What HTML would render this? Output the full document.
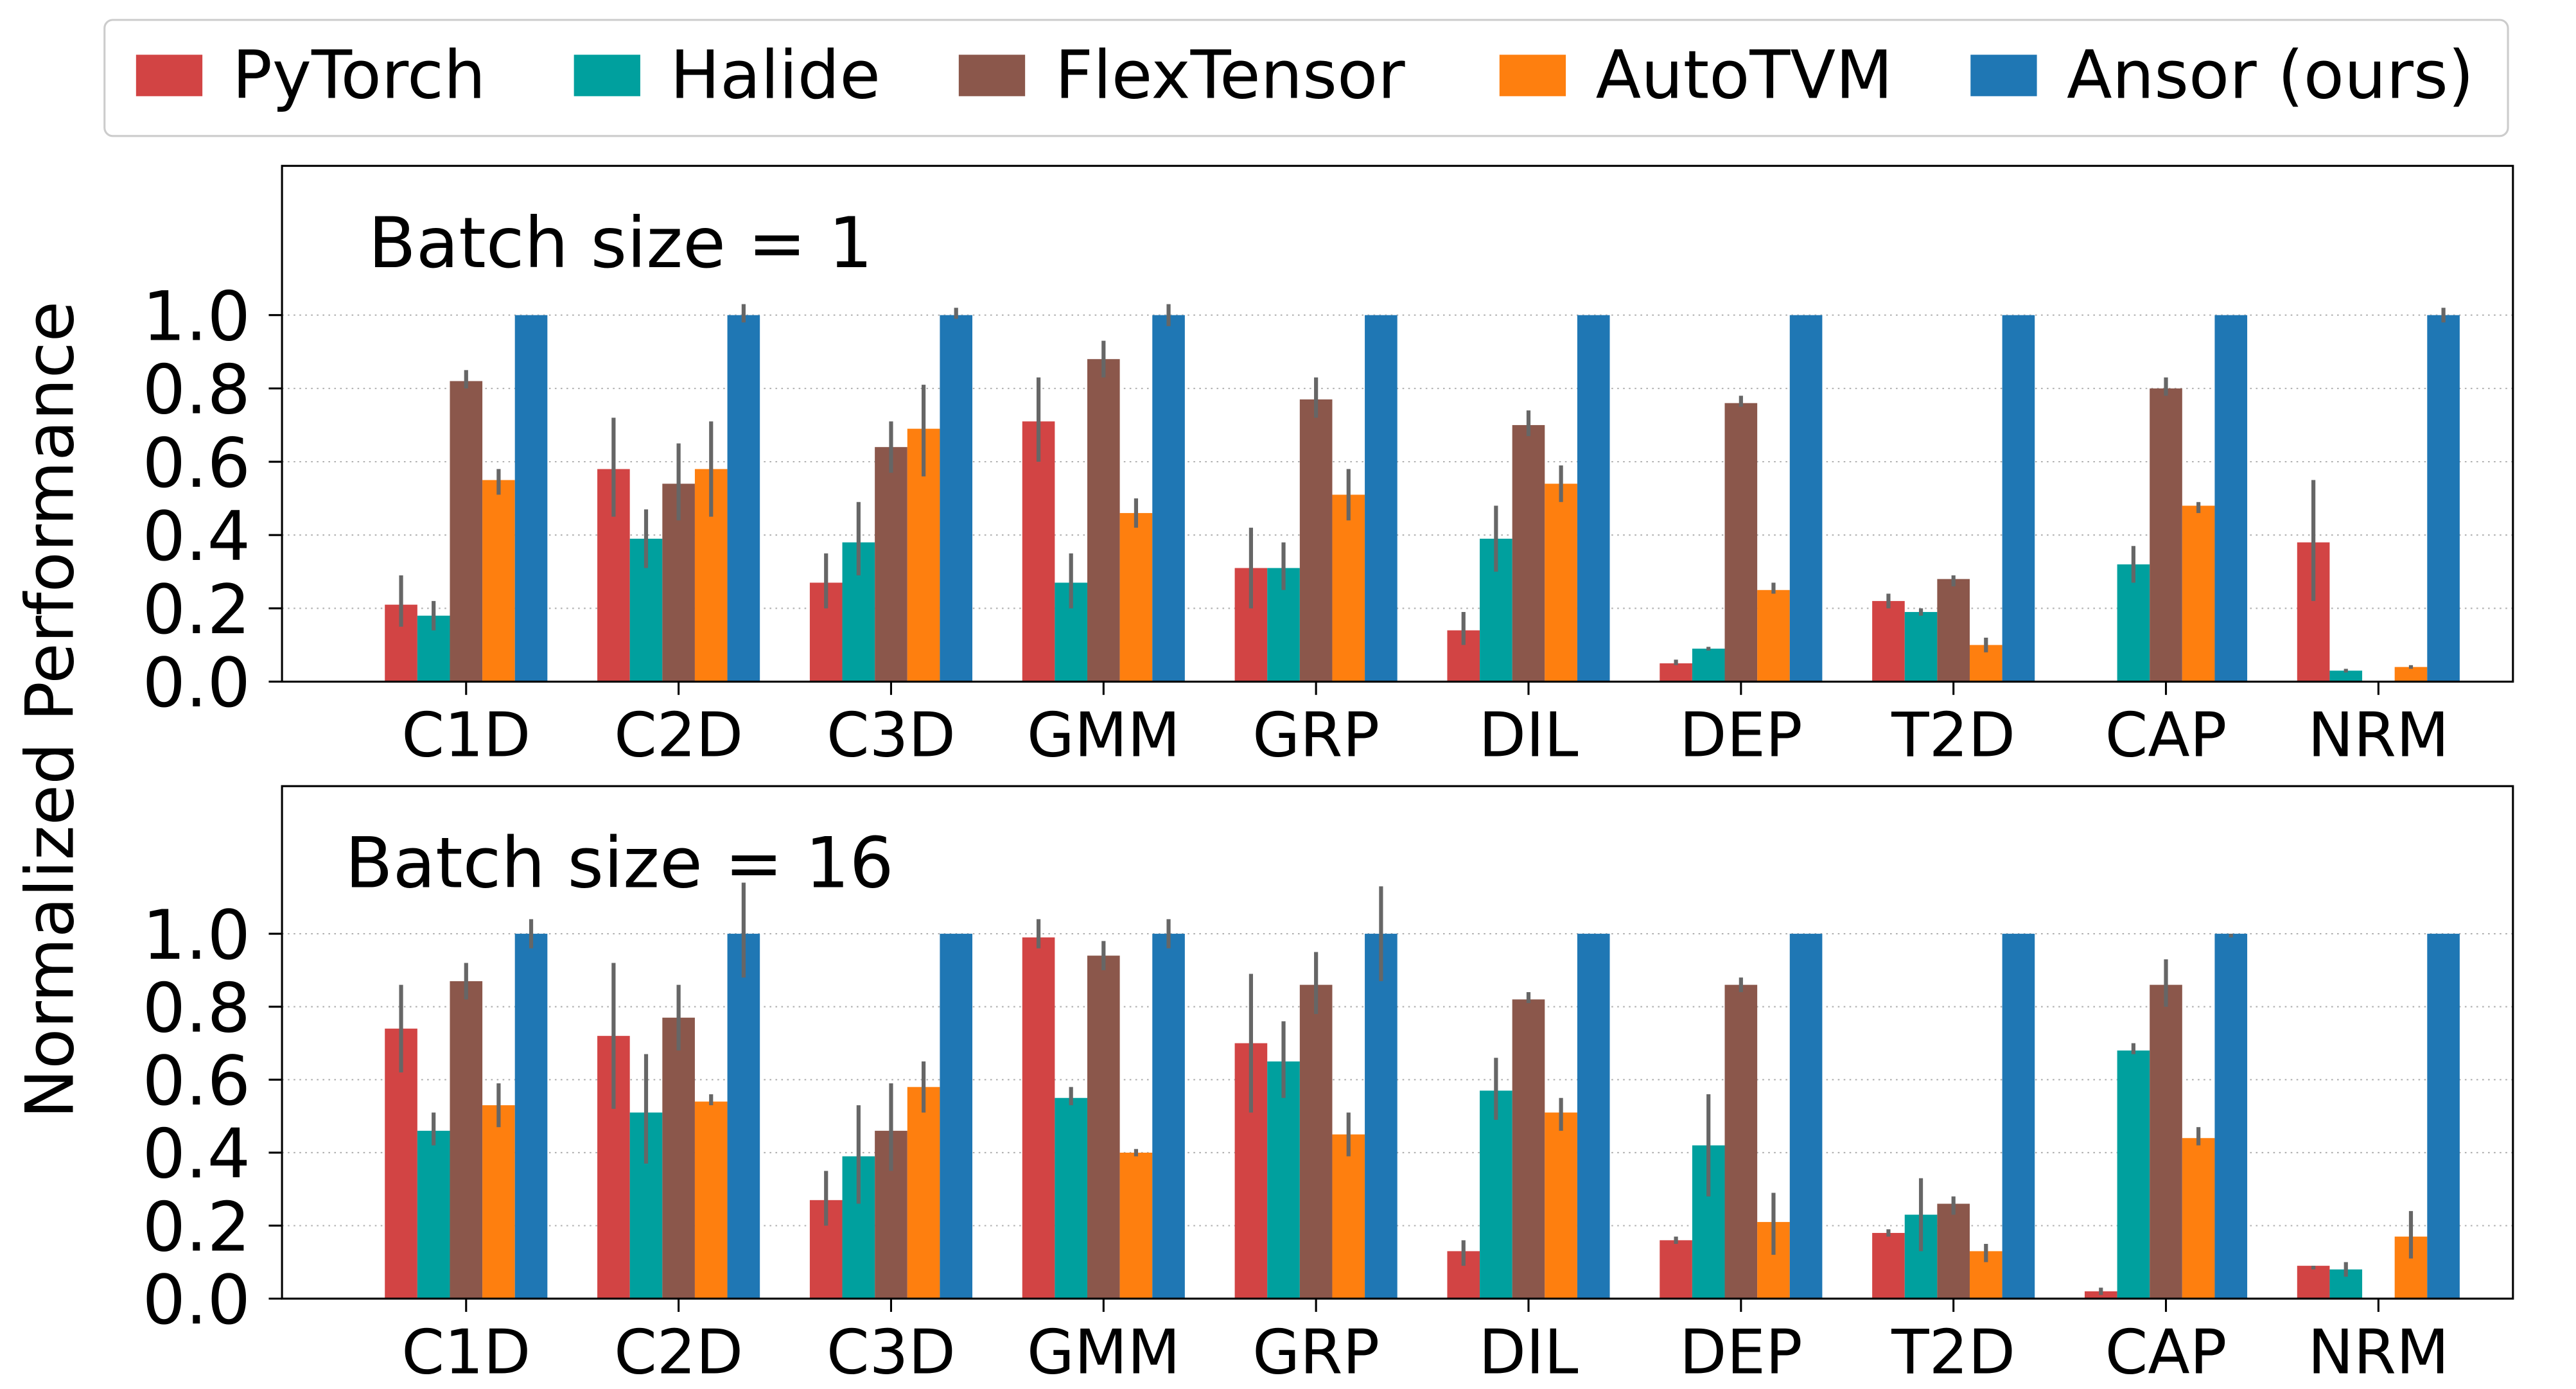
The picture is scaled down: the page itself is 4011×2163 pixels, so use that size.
<!DOCTYPE html>
<html><head><meta charset="utf-8">
<style>
html,body{margin:0;padding:0;background:#fff;}
svg{display:block;font-family:"DejaVu Sans","Liberation Sans",sans-serif;}
</style></head>
<body>
<svg id="chart" width="4011" height="2163" viewBox="0 0 1553 837.5" xmlns="http://www.w3.org/2000/svg"></svg>
<script>
const categories = ["C1D","C2D","C3D","GMM","GRP","DIL","DEP","T2D","CAP","NRM"];
const seriesNames = ["PyTorch","Halide","FlexTensor","AutoTVM","Ansor (ours)"];
const seriesColors = ["#d24444","#00a09e","#8b574b","#fe7f0f","#1f77b4"];
const yTicks = [0,0.2,0.4,0.6,0.8,1.0];
const yTickLabels = ["0.0","0.2","0.4","0.6","0.8","1.0"];
// Batch size = 1
const b1PyTorch = [0.21,0.58,0.27,0.71,0.31,0.14,0.05,0.22,0,0.38];
const b1Halide = [0.18,0.39,0.38,0.27,0.31,0.39,0.09,0.19,0.32,0.03];
const b1Flex = [0.82,0.54,0.64,0.88,0.77,0.70,0.76,0.28,0.80,0];
const b1Auto = [0.55,0.58,0.69,0.46,0.51,0.54,0.25,0.10,0.48,0.04];
const b1Ansor = [1,1,1,1,1,1,1,1,1,1];
const b1PyTorchErr = [[0.15,0.29],[0.45,0.72],[0.20,0.35],[0.60,0.83],[0.20,0.42],[0.10,0.19],[0.045,0.06],[0.20,0.24],null,[0.22,0.55]];
const b1HalideErr = [[0.14,0.22],[0.31,0.47],[0.29,0.49],[0.20,0.35],[0.25,0.38],[0.30,0.48],[0.085,0.095],[0.18,0.20],[0.27,0.37],[0.025,0.035]];
const b1FlexErr = [[0.80,0.85],[0.44,0.65],[0.57,0.71],[0.83,0.93],[0.72,0.83],[0.67,0.74],[0.75,0.78],[0.26,0.29],[0.78,0.83],null];
const b1AutoErr = [[0.51,0.58],[0.45,0.71],[0.56,0.81],[0.42,0.50],[0.44,0.58],[0.49,0.59],[0.24,0.27],[0.08,0.12],[0.46,0.49],[0.035,0.045]];
const b1AnsorErr = [null,[0.98,1.03],[0.99,1.02],[0.97,1.03],null,null,null,null,null,[0.98,1.02]];
// Batch size = 16
const b16PyTorch = [0.74,0.72,0.27,0.99,0.70,0.13,0.16,0.18,0.02,0.09];
const b16Halide = [0.46,0.51,0.39,0.55,0.65,0.57,0.42,0.23,0.68,0.08];
const b16Flex = [0.87,0.77,0.46,0.94,0.86,0.82,0.86,0.26,0.86,0];
const b16Auto = [0.53,0.54,0.58,0.40,0.45,0.51,0.21,0.13,0.44,0.17];
const b16Ansor = [1,1,1,1,1,1,1,1,1,1];
const b16PyTorchErr = [[0.62,0.86],[0.52,0.92],[0.20,0.35],[0.96,1.04],[0.51,0.89],[0.09,0.16],[0.15,0.17],[0.17,0.19],[0.01,0.03],[0.08,0.09]];
const b16HalideErr = [[0.42,0.51],[0.37,0.67],[0.26,0.53],[0.53,0.58],[0.55,0.76],[0.49,0.66],[0.28,0.56],[0.13,0.33],[0.67,0.70],[0.06,0.10]];
const b16FlexErr = [[0.82,0.92],[0.68,0.86],[0.35,0.59],[0.90,0.98],[0.78,0.95],[0.81,0.84],[0.84,0.88],[0.23,0.28],[0.80,0.93],null];
const b16AutoErr = [[0.47,0.59],[0.53,0.56],[0.51,0.65],[0.39,0.41],[0.39,0.51],[0.46,0.55],[0.12,0.29],[0.10,0.15],[0.42,0.47],[0.11,0.24]];
const b16AnsorErr = [[0.96,1.04],[0.88,1.14],null,[0.96,1.04],[0.87,1.13],null,null,null,[0.99,1.0],null];

const NS="http://www.w3.org/2000/svg";
const svg=document.getElementById('chart');
function mk(tag,attrs,parent){const e=document.createElementNS(NS,tag);for(const k in attrs)e.setAttribute(k,attrs[k]);(parent||svg).appendChild(e);return e;}

const X0=170,X1=1515,catStart=281,catStep=128.1,barW=19.6;
function xCenter(i,s){return catStart+i*catStep+(s-2)*barW;}

function panel(name,top,bottom,y1,y0,title,titleX,series,errs){
  const g=mk('g',{});
  
  
  const yS=v=>y0-(y0-y1)*v;
  yTicks.forEach((t,k)=>{
    if(t>0){const l=mk('line',{x1:X0,x2:X1,y1:yS(t),y2:yS(t),stroke:'#b0b0b0','stroke-width':0.8,'stroke-dasharray':'1,2.5'},g);
    }
    const tk=mk('line',{x1:X0-8,x2:X0,y1:yS(t),y2:yS(t),stroke:'#000','stroke-width':1.2},g);
    
    const tl=mk('text',{x:151,y:yS(t)+15,'text-anchor':'end','font-size':41,fill:'#000'},g);
    tl.textContent=yTickLabels[k];
    
  });
  series.forEach((vals,s)=>{
    vals.forEach((v,i)=>{
      if(v<=0)return;
      const r=mk('rect',{x:xCenter(i,s)-barW/2,y:yS(v),width:barW,height:y0-yS(v),fill:seriesColors[s]},g);
      
      
    });
  });
  errs.forEach((ev,s)=>{
    ev.forEach((e,i)=>{
      if(!e)return;
      const l=mk('line',{x1:xCenter(i,s),x2:xCenter(i,s),y1:yS(e[0]),y2:yS(e[1]),stroke:'#666','stroke-width':2.4},g);
      
    });
  });
  const fr=mk('rect',{x:X0,y:top,width:X1-X0,height:bottom-top,fill:'none',stroke:'#000','stroke-width':1.2},g);
  
  categories.forEach((c,i)=>{
    const tk=mk('line',{x1:xCenter(i,2),x2:xCenter(i,2),y1:bottom,y2:bottom+8,stroke:'#000','stroke-width':1.2},g);
    
    const t=mk('text',{x:xCenter(i,2),y:bottom+45,'text-anchor':'middle','font-size':37,fill:'#000'},g);
    t.textContent=c;
    
  });
  const tt=mk('text',{x:titleX,y:top+61,'font-size':42,fill:'#000'},g);
  tt.textContent=title;
  
}
panel('panel-batch-1',100,411,190,411,'Batch size = 1',222,[b1PyTorch,b1Halide,b1Flex,b1Auto,b1Ansor],[b1PyTorchErr,b1HalideErr,b1FlexErr,b1AutoErr,b1AnsorErr]);
panel('panel-batch-16',474,783,563,783,'Batch size = 16',208,[b16PyTorch,b16Halide,b16Flex,b16Auto,b16Ansor],[b16PyTorchErr,b16HalideErr,b16FlexErr,b16AutoErr,b16AnsorErr]);

const yl=mk('text',{x:0,y:0,transform:'translate(44,428) rotate(-90)','text-anchor':'middle','font-size':40,fill:'#000'});
yl.textContent='Normalized Performance';



const lg=mk('g',{});


const lb=mk('rect',{x:63,y:12,width:1449,height:70,rx:5,fill:'#fff',stroke:'#ccc','stroke-width':1.2},lg);

const legX=[82,346,578,904,1188];
seriesNames.forEach((n,s)=>{
  const e=mk('g',{},lg);
  
  
  mk('rect',{x:legX[s],y:33,width:40,height:25,fill:seriesColors[s]},e);
  const t=mk('text',{x:legX[s]+58,y:59,'font-size':40,fill:'#000'},e);
  t.textContent=n;
});
</script>
</body></html>
